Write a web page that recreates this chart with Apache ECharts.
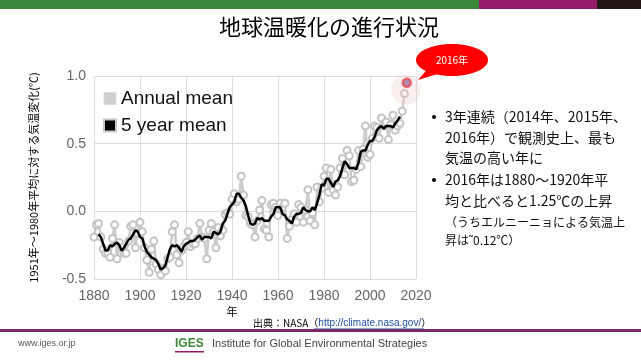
<!DOCTYPE html>
<html><head><meta charset="utf-8">
<script src="https://cdn.jsdelivr.net/npm/echarts@6/dist/echarts.min.js"></script>
<style>html,body{margin:0;padding:0;background:#fff}#c{width:641px;height:360px}</style>
</head><body><div id="c"></div>
<script>
// ---- data ----
const annualStartYear = 1880;
const annualMean = [
-0.19,-0.10,-0.09,-0.19,-0.28,-0.31,-0.31,-0.34,-0.20,-0.10,
-0.35,-0.23,-0.27,-0.31,-0.31,-0.22,-0.11,-0.10,-0.27,-0.16,
-0.08,-0.15,-0.27,-0.36,-0.45,-0.28,-0.22,-0.39,-0.43,-0.47,
-0.42,-0.44,-0.35,-0.34,-0.15,-0.10,-0.32,-0.38,-0.29,-0.26,
-0.23,-0.15,-0.26,-0.24,-0.24,-0.20,-0.09,-0.19,-0.20,-0.35,
-0.14,-0.09,-0.15,-0.27,-0.12,-0.18,-0.14,-0.02,-0.01,-0.02,
0.09,0.13,0.07,0.09,0.26,0.12,-0.03,-0.04,-0.09,-0.10,
-0.19,-0.07,0.01,0.08,-0.13,-0.14,-0.19,0.05,0.06,0.03,
-0.03,0.06,0.03,0.06,-0.20,-0.11,-0.06,-0.02,-0.08,0.05,
0.03,-0.08,0.01,0.16,-0.07,-0.01,-0.10,0.18,0.07,0.17,
0.26,0.32,0.14,0.31,0.16,0.12,0.18,0.32,0.39,0.27,
0.45,0.41,0.22,0.23,0.31,0.45,0.33,0.46,0.63,0.40,
0.42,0.54,0.63,0.62,0.54,0.69,0.63,0.66,0.53,0.64,
0.71,0.60,0.63,0.65,0.74,0.87];
const fiveYearStartYear = 1882;
const fiveYearMean = [
-0.17,-0.19,-0.24,-0.29,-0.29,-0.25,-0.26,-0.24,
-0.23,-0.25,-0.29,-0.27,-0.24,-0.21,-0.20,-0.17,-0.14,-0.15,
-0.19,-0.20,-0.26,-0.30,-0.32,-0.34,-0.35,-0.36,-0.39,-0.43,
-0.42,-0.40,-0.34,-0.28,-0.25,-0.26,-0.25,-0.27,-0.30,-0.26,
-0.24,-0.23,-0.22,-0.22,-0.21,-0.19,-0.18,-0.21,-0.19,-0.19,
-0.19,-0.20,-0.15,-0.16,-0.17,-0.15,-0.09,-0.07,-0.02,0.03,
0.05,0.07,0.13,0.13,0.10,0.08,0.04,-0.03,-0.09,-0.10,
-0.09,-0.05,-0.06,-0.05,-0.07,-0.07,-0.07,-0.04,-0.02,0.03,
0.03,0.03,-0.02,-0.03,-0.06,-0.07,-0.09,-0.04,-0.02,-0.02,
-0.01,0.03,0.01,0.00,0.00,0.03,0.01,0.06,0.12,0.20,
0.19,0.24,0.24,0.21,0.18,0.22,0.23,0.26,0.32,0.37,
0.35,0.32,0.32,0.32,0.31,0.36,0.44,0.45,0.45,0.49,
0.52,0.52,0.55,0.60,0.62,0.63,0.61,0.63,0.63,0.63,
0.62,0.65,0.67,0.70];
const highlightYear = 2016;
const highlightValue = 0.95;
const xTicks = {min:1880, max:2020, interval:20};
const yTicks = {min:-0.5, max:1.0, interval:0.5};
const legendNames = ['Annual mean','5 year mean'];

// ---- chart ----
const chart = echarts.init(document.getElementById('c'));
const latin = '"Liberation Sans", Arial, sans-serif';
const jp = '"Noto Sans CJK JP", sans-serif';
const annualData = annualMean.map((v,i)=>[annualStartYear+i, v]);
const fiveData = fiveYearMean.map((v,i)=>[fiveYearStartYear+i, v]);

const rightLines = [
  {t:'3年連続（2014年、2015年、', y:117, b:true, s:14},
  {t:'2016年）で観測史上、最も', y:138, s:14},
  {t:'気温の高い年に', y:158, s:14},
  {t:'2016年は1880～1920年平', y:180, b:true, s:14},
  {t:'均と比べると1.25℃の上昇', y:201, s:14},
  {t:'（うちエルニーニョによる気温上', y:222, s:12},
  {t:'昇は˜0.12℃）', y:240, s:12}
];
const graphics = [
  {type:'rect', shape:{x:0,y:0,width:479,height:9}, style:{fill:'#3c873a'}},
  {type:'rect', shape:{x:479,y:0,width:118,height:9}, style:{fill:'#951a6c'}},
  {type:'rect', shape:{x:597,y:0,width:44,height:9}, style:{fill:'#231815'}},
  {type:'text', x:329, y:27, style:{text:'地球温暖化の進行状況', font:'22px '+jp, fill:'#000', textAlign:'center', textVerticalAlign:'middle'}},
  {type:'polygon', shape:{points:[[430,66],[444,72],[418,80]]}, style:{fill:'#ff0000'}},
  {type:'ellipse', shape:{cx:452,cy:60,rx:36,ry:16}, style:{fill:'#ff0000'}},
  {type:'text', x:452, y:60, style:{text:'2016年', font:'10px '+jp, fill:'#fff', textAlign:'center', textVerticalAlign:'middle'}},
  {type:'text', x:232, y:312, style:{text:'年', font:'11px '+jp, fill:'#000', textAlign:'center', textVerticalAlign:'middle'}},
  {type:'text', x:253, y:323, style:{text:'{a|出典：NASA（}{u|http://climate.nasa.gov/}{a|）}', textVerticalAlign:'middle',
     rich:{a:{font:'10px '+jp, fill:'#000'}, u:{font:'10px '+latin, fill:'#1f4fa0'}}}},
  {type:'line', shape:{x1:314,y1:329,x2:424,y2:329}, style:{stroke:'#1f4fa0', lineWidth:1}},
  {type:'rect', shape:{x:0,y:329,width:641,height:3}, style:{fill:'#7a2a6a'}},
  {type:'text', x:18, y:344, style:{text:'www.iges.or.jp', font:'9px '+latin, fill:'#555', textVerticalAlign:'middle'}},
  {type:'text', x:175, y:344, style:{text:'IGES', font:'bold 12px '+latin, fill:'#3c873a', textVerticalAlign:'middle'}},
  {type:'rect', shape:{x:175,y:351,width:29,height:1.5}, style:{fill:'#951a6c'}},
  {type:'text', x:212, y:344, style:{text:'Institute for Global Environmental Strategies', font:'11px '+latin, fill:'#444', textVerticalAlign:'middle'}}
];
rightLines.forEach(l=>{
  if(l.b) graphics.push({type:'circle', shape:{cx:434,cy:l.y,r:2}, style:{fill:'#000'}});
  graphics.push({type:'text', x:445, y:l.y, style:{text:l.t, font:l.s+'px '+jp, fill:'#111', textVerticalAlign:'middle'}});
});

chart.setOption({
  animation:false,
  backgroundColor:'#fff',
  grid:{left:94, right:225, top:76, bottom:81},
  legend:{
    orient:'vertical', left:98, top:84, itemWidth:12, itemHeight:12, itemGap:8, icon:'rect',
    textStyle:{fontFamily:latin, fontSize:19, color:'#111'},
    data:[
      {name:legendNames[0], itemStyle:{color:'#cfcfcf', borderColor:'#dddddd', borderWidth:1}},
      {name:legendNames[1], itemStyle:{color:'#000', borderColor:'#c8c8c8', borderWidth:2}}
    ]
  },
  xAxis:{type:'value', min:xTicks.min, max:xTicks.max, interval:xTicks.interval,
    axisLine:{show:false}, axisTick:{show:false},
    splitLine:{show:true, lineStyle:{color:'#dcdcdc', width:1}},
    axisLabel:{color:'#666', fontFamily:latin, fontSize:14, margin:10, formatter:v=>String(v)}},
  yAxis:{type:'value', min:yTicks.min, max:yTicks.max, interval:yTicks.interval,
    axisLine:{show:false}, axisTick:{show:false},
    splitLine:{show:true, lineStyle:{color:'#dcdcdc', width:1}},
    axisLabel:{color:'#666', fontFamily:latin, fontSize:14, margin:8, formatter:v=>v.toFixed(1)},
    name:'1951年～1980年平均に対する気温変化(℃)', nameLocation:'middle', nameRotate:90, nameGap:55,
    nameTextStyle:{fontFamily:jp, fontSize:11, color:'#000'}},
  graphic:graphics,
  series:[
    {name:legendNames[0], type:'line', data:annualData, symbol:'circle', symbolSize:7, showSymbol:true,
     lineStyle:{color:'#cccccc', width:2.5}, itemStyle:{color:'#fff', borderColor:'#c4c4c4', borderWidth:2},
     z:2,
     markPoint:{symbol:'circle', symbolSize:30, silent:true, label:{show:false},
       itemStyle:{color:'rgba(235,195,195,0.3)'}, data:[{coord:[2015.6, 0.9]}]}},
    {name:legendNames[1], type:'line', data:fiveData, symbol:'none', lineStyle:{color:'#000', width:2.5}, z:3},
    {name:'2016', type:'scatter', data:[[highlightYear, highlightValue]], symbol:'circle', symbolSize:8,
     itemStyle:{color:'#7a5c9c', borderColor:'#e8141e', borderWidth:2.5}, z:4}
  ]
});
</script></body></html>
